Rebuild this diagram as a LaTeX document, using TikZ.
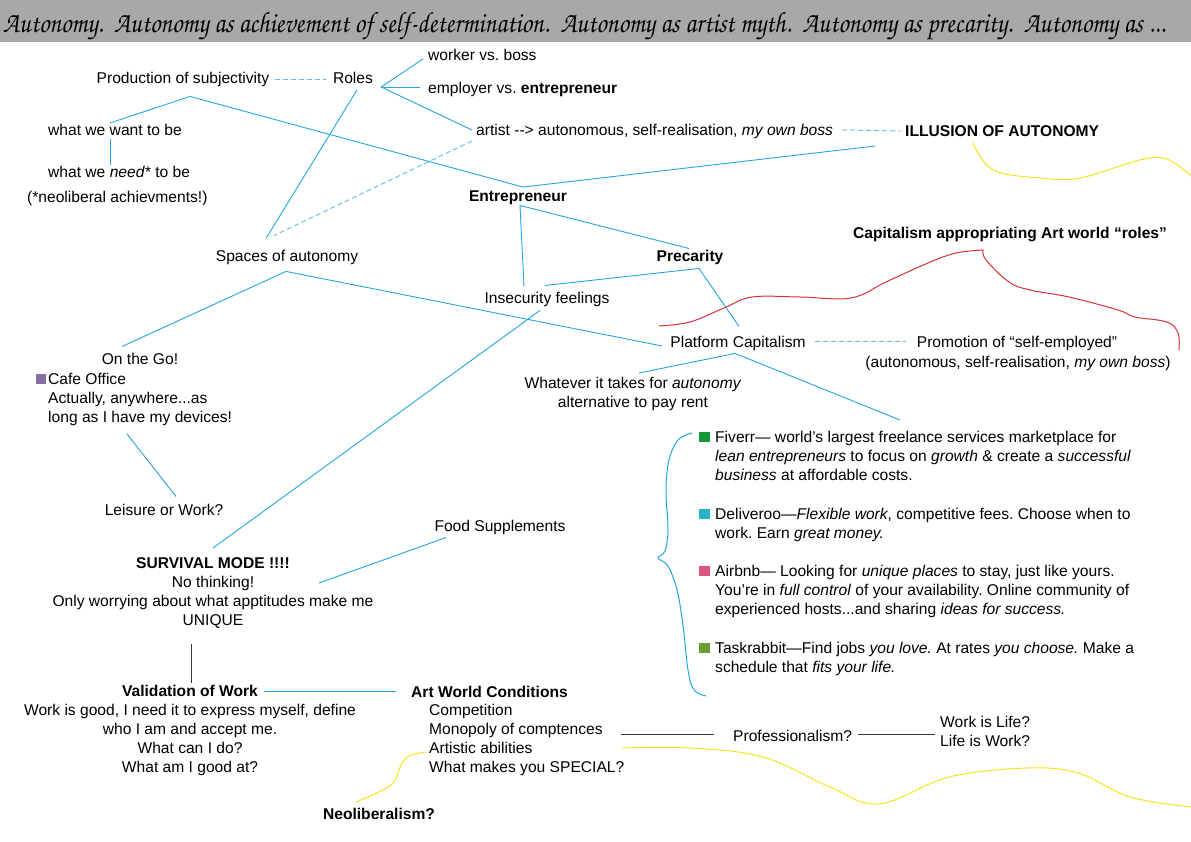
\documentclass[tikz,border=0pt]{standalone}
\usepackage{fontspec}
\setmainfont{Liberation Sans}
\newfontfamily\headscript{texgyrechorus-mediumitalic.otf}
\usetikzlibrary{calc}
\frenchspacing

\definecolor{linkblue}{RGB}{35,166,222}
\definecolor{dashblue}{RGB}{95,188,235}
\definecolor{linkgray}{RGB}{55,55,55}
\definecolor{headgray}{RGB}{168,168,168}
\definecolor{scribred}{RGB}{215,50,55}
\definecolor{scribyellow}{RGB}{245,228,30}
\definecolor{fivgreen}{RGB}{20,150,60}
\definecolor{deliteal}{RGB}{40,180,200}
\definecolor{airpink}{RGB}{220,85,125}
\definecolor{taskgreen}{RGB}{105,160,50}
\definecolor{cafepurple}{RGB}{135,110,165}

\newcommand{\txt}{\fontsize{15.6}{19}\selectfont}

\tikzset{
  lbl/.style={inner sep=0pt, font=\txt},
  hilite/.style={inner sep=0pt, font=\txt\bfseries},
  link/.style={draw=linkblue, line width=0.9pt},
  dlink/.style={draw=dashblue, line width=0.9pt, dash pattern=on 5pt off 3pt},
  glink/.style={draw=linkgray, line width=0.9pt},
  sq/.style={inner sep=0pt, minimum size=10.5pt},
  scrib/.style={line width=1pt, line cap=round, line join=round}
}

\begin{document}
\begin{tikzpicture}[x=1pt,y=-1pt]
\useasboundingbox (0,0) rectangle (1191,842);
\fill[white] (0,0) rectangle (1191,842);

% header band
\fill[headgray] (0,0) rectangle (1191,42);
\node[inner sep=0pt, anchor=base west] (head) at (3,33)
  {\resizebox{1162pt}{20pt}{\headscript Autonomy.~ Autonomy as achievement of self-determination.~ Autonomy as artist myth.~ Autonomy as precarity.~ Autonomy as ...}};

% upper part
\node[lbl, anchor=base] (prod) at (183,84) {Production of subjectivity};
\node[lbl, anchor=base] (roles) at (353,84) {Roles};
\node[lbl, anchor=base west] (worker) at (428,61) {worker vs. boss};
\node[lbl, anchor=base west] (employer) at (428,94) {employer vs. \textbf{entrepreneur}};
\node[lbl, anchor=base west] (artist) at (476,136) {artist {-}{-}> autonomous, self-realisation, \textit{my own boss}};
\node[hilite, anchor=base west] (illusion) at (905,137) {ILLUSION OF AUTONOMY};
\node[lbl, anchor=base west] (want) at (48,136) {what we want to be};
\node[lbl, anchor=base west] (need) at (48,178) {what we \textit{need*} to be};
\node[lbl, anchor=base west] (neolib) at (27,203) {(*neoliberal achievments!)};
\node[hilite, anchor=base] (entre) at (518,202) {Entrepreneur};
\node[lbl, anchor=base] (spaces) at (287,262) {Spaces of autonomy};
\node[hilite, anchor=base] (precar) at (690,262) {Precarity};
\node[hilite, anchor=base] (capapp) at (1010,239) {Capitalism appropriating Art world “roles”};
\node[lbl, anchor=base] (insec) at (547,304) {Insecurity feelings};
\node[lbl, anchor=base] (platform) at (738,347) {Platform Capitalism};
\node[lbl, anchor=base] (promo1) at (1017,347) {Promotion of “self-employed”};
\node[lbl, anchor=base] (promo2) at (1018,367) {(autonomous, self-realisation, \textit{my own boss})};
\node[lbl, align=center, anchor=north] (whatever) at (633,377) {Whatever it takes for \textit{autonomy}\\alternative to pay rent};

% left column
\node[lbl, anchor=base] (onthego) at (140,364) {On the Go!};
\node[sq, fill=cafepurple] (cafesq) at (41,379) {};
\node[lbl, align=left, anchor=north west] (cafe) at (48,373) {Cafe Office\\Actually, anywhere...as\\long as I have my devices!};
\node[lbl, anchor=base] (leisure) at (164,515) {Leisure or Work?};
\node[lbl, anchor=base] (food) at (500,531) {Food Supplements};
\node[lbl, align=center, anchor=north] (survival) at (213,557) {\textbf{SURVIVAL MODE !!!!}\\No thinking!\\Only worrying about what apptitudes make me\\UNIQUE};
\node[lbl, align=center, anchor=north] (valid) at (190,685) {\textbf{Validation of Work}\\Work is good, I need it to express myself, define\\who I am and accept me.\\What can I do?\\What am I good at?};
\node[hilite, anchor=base west] (artcond) at (411,697) {Art World Conditions};
\node[lbl, align=left, anchor=north west] (conds) at (429,704) {Competition\\Monopoly of comptences\\Artistic abilities\\What makes you SPECIAL?};
\node[lbl, anchor=base west] (prof) at (733,741) {Professionalism?};
\node[lbl, align=left, anchor=north west] (worklife) at (940,716) {Work is Life?\\Life is Work?};
\node[hilite, anchor=base] (neolibq) at (379,819) {Neoliberalism?};

% platforms
\node[sq, fill=fivgreen] (fivsq) at (704.5,437) {};
\node[lbl, align=left, anchor=north west] (fiverr) at (715,431) {Fiverr— world’s largest freelance services marketplace for\\\textit{lean entrepreneurs} to focus on \textit{growth} \& create a \textit{successful}\\\textit{business} at affordable costs.};
\node[sq, fill=deliteal] (delsq) at (704.5,514) {};
\node[lbl, align=left, anchor=north west] (deliveroo) at (715,508) {Deliveroo—\textit{Flexible work}, competitive fees. Choose when to\\work. Earn \textit{great money.}};
\node[sq, fill=airpink] (airsq) at (704.5,571) {};
\node[lbl, align=left, anchor=north west] (airbnb) at (715,565) {Airbnb— Looking for \textit{unique places} to stay, just like yours.\\You’re in \textit{full control} of your availability. Online community of\\experienced hosts...and sharing \textit{ideas for success.}};
\node[sq, fill=taskgreen] (tasksq) at (704.5,648) {};
\node[lbl, align=left, anchor=north west] (taskrabbit) at (715,642) {Taskrabbit—Find jobs \textit{you love.} At rates \textit{you choose.} Make a\\schedule that \textit{fits your life.}};

% forks
\coordinate (prodfork) at ($(prod.south)+(7,9)$);
\coordinate (rolesfork) at ($(roles.base east)+(8,3)$);
\coordinate (entrefork) at ($(entre.north)+(5,-4)$);
\coordinate (spacesfork) at ($(spaces.south)+(-1,6)$);
\coordinate (precarfork) at ($(precar.south)+(9,3)$);
\coordinate (platfork) at ($(platform.south)+(-3,3)$);

% connectors
\draw[dlink] ($(prod.base east)+(6,-5)$) -- ($(roles.base west)+(-7,-5)$);
\draw[link] (rolesfork) -- ($(worker.base west)+(-5,-2)$);
\draw[link] (rolesfork) -- ($(employer.base west)+(-8,-7)$);
\draw[link] (rolesfork) -- ($(artist.base west)+(-4,-6)$);
\draw[link] ($(roles.base)+(4,6)$) -- ($(spaces.north)+(-21,-12)$);
\draw[dlink] ($(artist.base west)+(-4,5)$) -- ($(spaces.north)+(-13,-15)$);
\draw[dlink] ($(artist.base east)+(9,-6)$) -- ($(illusion.base west)+(-4,-6)$);
\draw[link] ($(want.base west)+(62,-13)$) -- (prodfork) -- (entrefork) -- ($(illusion.base west)+(-30,9)$);
\draw[link] ($(want.base west)+(62,3)$) -- ($(need.base west)+(62,-13)$);
\draw[link] ($(insec.north)+(-23,-6)$) -- ($(entre.south)+(2,0)$) -- ($(precar.north)+(-1,-2)$);
\draw[link] ($(insec.north)+(-2,-7)$) -- (precarfork) -- ($(platform.north)+(1,-9)$);
\draw[link] ($(onthego.north)+(-18,-6)$) -- (spacesfork) -- ($(platform.base west)+(-8,-1)$);
\draw[link] ($(insec.south)+(-7,3)$) -- ($(survival.north)+(0,-9)$);
\draw[link] ($(whatever.north)+(6,-4)$) -- (platfork) -- ($(fiverr.north west)+(185,-11)$);
\draw[dlink] ($(platform.base east)+(9,-6)$) -- ($(promo1.base west)+(-11,-6)$);
\draw[link] ($(cafe.south west)+(79,8)$) -- ($(leisure.north)+(12,-7)$);
\draw[link] ($(food.south west)+(12,3)$) -- ($(survival.north)+(106,26)$);
\draw[glink] ($(survival.south)+(-22,16)$) -- ($(valid.north)+(1,-2)$);
\draw[link] ($(valid.north)+(74,6)$) -- ($(artcond.base west)+(-15,-6)$);
\draw[glink] ($(conds.north east)+(-3,30)$) -- ($(prof.base west)+(-19,-7)$);
\draw[glink] ($(prof.base east)+(6,-7)$) -- ($(worklife.north west)+(-5,18)$);

% brace round the platforms
\draw[scrib, draw=linkblue] plot[smooth, tension=0.6] coordinates {(692,433) (678,440) (669,460) (666,490) (668,530) (665,551) (658,558) (668,566) (677,590) (683,625) (688,670) (694,690) (706,696)};

% hand drawn marks
\draw[scrib, draw=scribred] plot[smooth, tension=0.6] coordinates {(659,326) (690,322) (724,308) (752,297) (800,297) (851,298) (886,282) (928,263) (956,253) (983,250)};
\draw[scrib, draw=scribred] plot[smooth, tension=0.6] coordinates {(983,250) (986,260) (1009,282) (1030,290) (1069,297) (1118,310) (1135,317) (1167,322) (1178,333) (1179,350)};
\draw[scrib, draw=scribyellow] plot[smooth, tension=0.6] coordinates {(973,143) (993,170) (1040,178) (1080,178) (1140,160) (1167,159) (1191,176)};
\draw[scrib, draw=scribyellow] plot[smooth, tension=0.6] coordinates {(623,748) (690,748) (763,757) (830,787) (879,804) (949,777) (1027,768) (1078,773) (1130,797) (1191,807)};
\draw[scrib, draw=scribyellow] plot[smooth, tension=0.6] coordinates {(426,752) (409,756) (401,765) (391,785) (356,802)};
\end{tikzpicture}
\end{document}
